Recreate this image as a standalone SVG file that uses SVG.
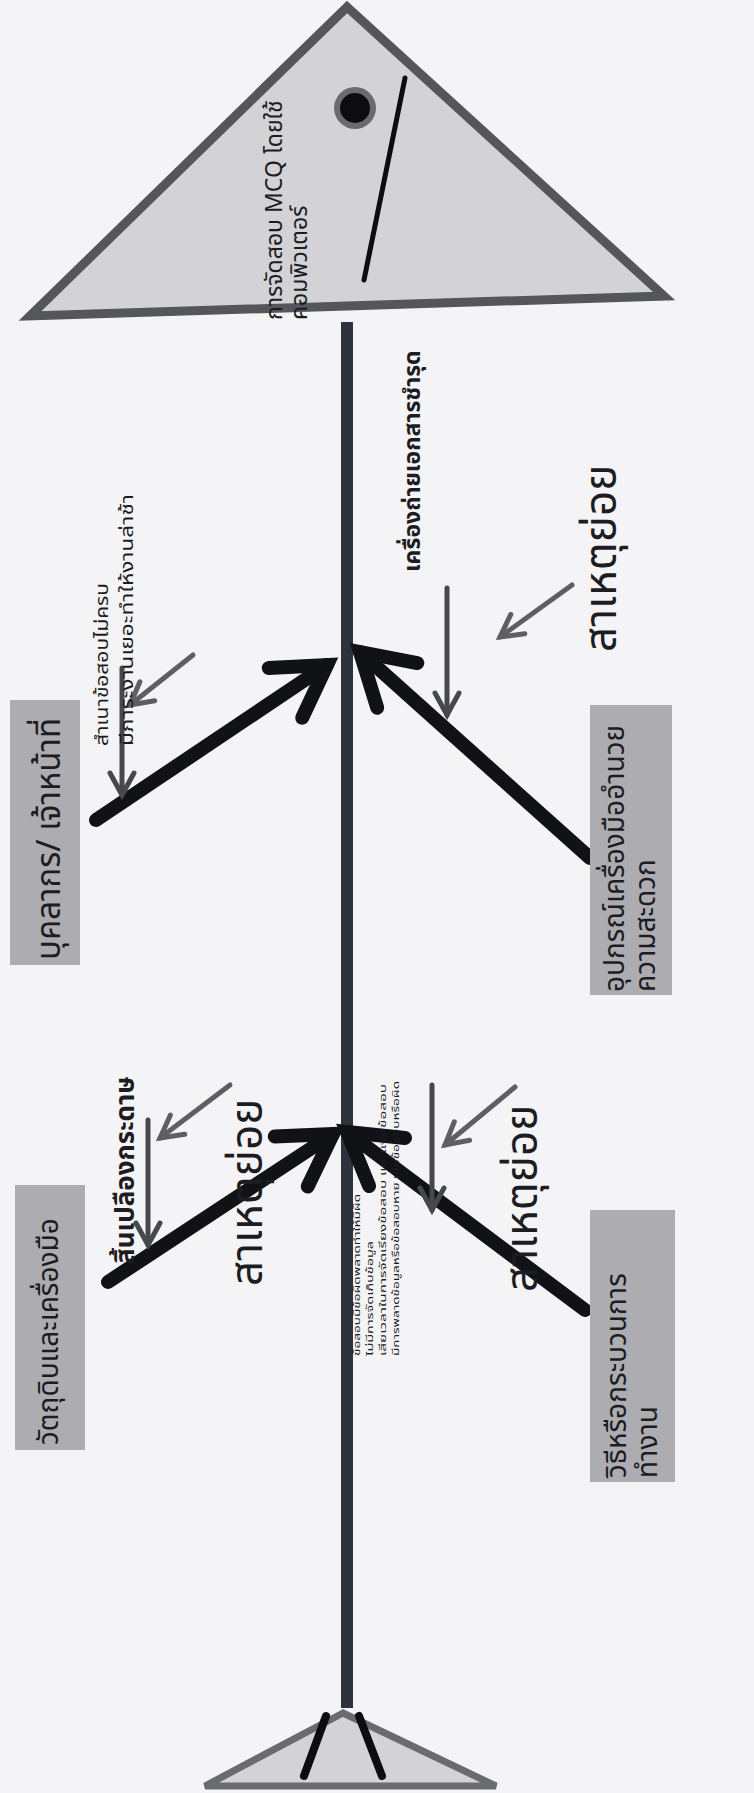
<svg xmlns="http://www.w3.org/2000/svg" width="754" height="1793" viewBox="0 0 754 1793">
<style>
text{font-family:"Noto Sans Thai","Noto Sans","Tahoma","DejaVu Sans",sans-serif;fill:#1c1c22}
.box{fill:#adadb1}
.bone{stroke:#111216;stroke-width:14;stroke-linecap:round;fill:none}
.sub{stroke:#5e5f63;stroke-width:5;stroke-linecap:round;fill:none}
.subd{stroke:#46484c;stroke-width:5;stroke-linecap:round;fill:none}
.lbl{font-size:28px}
.big{font-size:44px}
.small{font-size:17px}
.tiny{font-size:9px}
</style>
<defs>
<marker id="bigHead" viewBox="0 0 80 80" refX="64" refY="40" markerWidth="80" markerHeight="80" markerUnits="userSpaceOnUse" orient="auto">
<path d="M14,10 L64,40 L14,70" fill="none" stroke="#111216" stroke-width="14" stroke-linecap="round" stroke-linejoin="miter"/>
</marker>
<marker id="subHead" viewBox="0 0 36 36" refX="30" refY="18" markerWidth="36" markerHeight="36" markerUnits="userSpaceOnUse" orient="auto">
<path d="M8,6 L30,18 L8,30" fill="none" stroke="#5e5f63" stroke-width="5" stroke-linecap="round"/>
</marker>
<marker id="subHeadD" viewBox="0 0 36 36" refX="30" refY="18" markerWidth="36" markerHeight="36" markerUnits="userSpaceOnUse" orient="auto">
<path d="M8,6 L30,18 L8,30" fill="none" stroke="#46484c" stroke-width="5" stroke-linecap="round"/>
</marker>
</defs>
<rect width="754" height="1793" fill="#f4f4f6"/>

<g id="head">
<polygon points="347,7 30,316 664,296" fill="#d3d3d7" stroke="#545659" stroke-width="9" stroke-linejoin="miter"/>
<circle cx="355" cy="108" r="21" fill="#6a6b6f"/>
<circle cx="355" cy="108" r="15" fill="#0d0d10"/>
<line x1="405" y1="78" x2="364" y2="280" stroke="#0d0d10" stroke-width="5" stroke-linecap="round"/>
<text x="282" y="320" transform="rotate(-90 282 320)" style="font-size:23px">การจัดสอบ MCQ โดยใช้</text>
<text x="307" y="320" transform="rotate(-90 307 320)" style="font-size:23px">คอมพิวเตอร์</text>
</g>

<g id="tail">
<polygon points="343,1713 205,1786 496,1786" fill="#d3d3d7" stroke="#6a6b6f" stroke-width="7" stroke-linejoin="miter"/>
<line x1="326" y1="1716" x2="304" y2="1776" stroke="#0d0d10" stroke-width="8" stroke-linecap="round"/>
<line x1="359" y1="1716" x2="382" y2="1776" stroke="#0d0d10" stroke-width="8" stroke-linecap="round"/>
</g>

<g id="connectors">
<line x1="347" y1="322" x2="347" y2="1708" stroke="#2d323c" stroke-width="12"/>
<line class="bone" x1="96" y1="820" x2="327" y2="665" marker-end="url(#bigHead)"/>
<line class="bone" x1="590" y1="858" x2="360" y2="652" marker-end="url(#bigHead)"/>
<line class="bone" x1="108" y1="1282" x2="333" y2="1134" marker-end="url(#bigHead)"/>
<line class="bone" x1="585" y1="1310" x2="347" y2="1132" marker-end="url(#bigHead)"/>
<line class="subd" x1="122" y1="668" x2="122" y2="795" marker-end="url(#subHeadD)"/>
<line class="sub" x1="193" y1="655" x2="130" y2="705" marker-end="url(#subHead)"/>
<line class="subd" x1="447" y1="588" x2="447" y2="715" marker-end="url(#subHeadD)"/>
<line class="sub" x1="572" y1="585" x2="500" y2="637" marker-end="url(#subHead)"/>
<line class="subd" x1="148" y1="1120" x2="148" y2="1245" marker-end="url(#subHeadD)"/>
<line class="sub" x1="230" y1="1085" x2="160" y2="1138" marker-end="url(#subHead)"/>
<line class="subd" x1="432" y1="1085" x2="432" y2="1210" marker-end="url(#subHeadD)"/>
<line class="sub" x1="515" y1="1087" x2="445" y2="1145" marker-end="url(#subHead)"/>
</g>

<g id="box-people">
<rect class="box" x="10" y="700" width="70" height="265"/>
<text x="60" y="960" transform="rotate(-90 60 960)" style="font-size:33px">บุคลากร/ เจ้าหน้าที่</text>
</g>

<g id="box-equipment">
<rect class="box" x="590" y="705" width="82" height="290"/>
<text class="lbl" x="624" y="992" transform="rotate(-90 624 992)">อุปกรณ์เครื่องมืออำนวย</text>
<text class="lbl" x="655" y="992" transform="rotate(-90 655 992)">ความสะดวก</text>
</g>

<g id="box-material">
<rect class="box" x="15" y="1185" width="70" height="265"/>
<text class="lbl" x="58" y="1445" transform="rotate(-90 58 1445)">วัตถุดิบและเครื่องมือ</text>
</g>

<g id="box-method">
<rect class="box" x="590" y="1210" width="85" height="272"/>
<text class="lbl" x="626" y="1478" transform="rotate(-90 626 1478)">วิธีหรือกระบวนการ</text>
<text class="lbl" x="657" y="1478" transform="rotate(-90 657 1478)">ทำงาน</text>
</g>

<g id="cause-people">
<text class="small" x="108" y="746" transform="rotate(-90 108 746)" textLength="163" lengthAdjust="spacingAndGlyphs">สำเนาข้อสอบไม่ครบ</text>
<text class="small" x="133" y="746" transform="rotate(-90 133 746)" textLength="252" lengthAdjust="spacingAndGlyphs">มีภาระงานเยอะทำให้งานล่าช้า</text>
</g>

<g id="cause-equipment">
<text x="420" y="572" transform="rotate(-90 420 572)" style="font-size:23px;font-weight:bold">เครื่องถ่ายเอกสารชำรุด</text>
<text class="big" x="616" y="652" transform="rotate(-90 616 652)">สาเหตุย่อย</text>
</g>

<g id="cause-material">
<text x="134" y="1264" transform="rotate(-90 134 1264)" style="font-size:26px;font-weight:bold">สิ้นเปลืองกระดาษ</text>
<text class="big" x="262" y="1286" transform="rotate(-90 262 1286)">สาเหตุย่อย</text>
</g>

<g id="cause-method">
<text class="tiny" x="360" y="1356" transform="rotate(-90 360 1356)" textLength="162" lengthAdjust="spacingAndGlyphs">ข้อสอบมีข้อผิดพลาดทำให้มีผิด</text>
<text class="tiny" x="373" y="1356" transform="rotate(-90 373 1356)" textLength="115" lengthAdjust="spacingAndGlyphs">ไม่มีการจัดเก็บข้อมูล</text>
<text class="tiny" x="386" y="1356" transform="rotate(-90 386 1356)" textLength="272" lengthAdjust="spacingAndGlyphs">เสียเวลาในการจัดเรียงข้อสอบ และแจกข้อสอบ</text>
<text class="tiny" x="399" y="1356" transform="rotate(-90 399 1356)" textLength="275" lengthAdjust="spacingAndGlyphs">มีการพลาดข้อมูลหรือข้อสอบหาย เสียข้อสอบหรือผิด</text>
<text class="big" x="537" y="1292" transform="rotate(-90 537 1292)">สาเหตุย่อย</text>
</g>
</svg>
